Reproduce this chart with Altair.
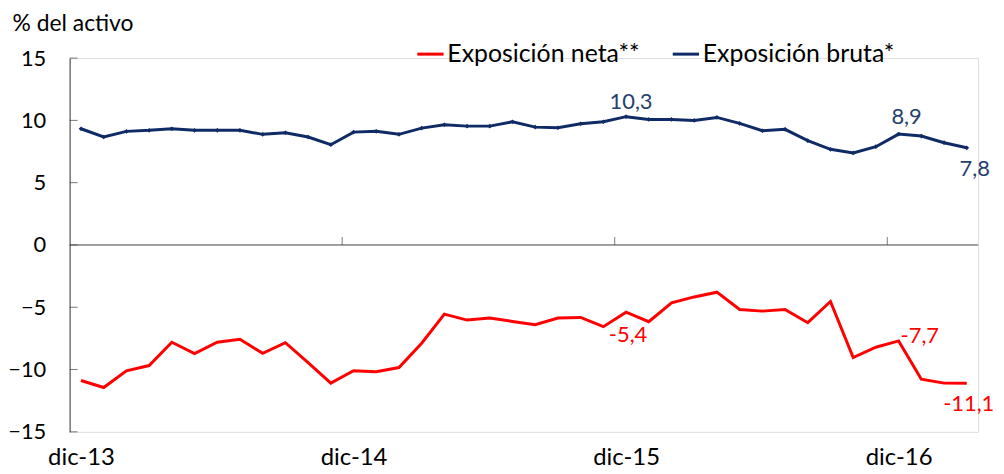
import altair as alt
import pandas as pd

months = [
    "dic-13", "ene-14", "feb-14", "mar-14", "abr-14", "may-14", "jun-14", "jul-14", "ago-14", "sep-14", "oct-14", "nov-14",
    "dic-14", "ene-15", "feb-15", "mar-15", "abr-15", "may-15", "jun-15", "jul-15", "ago-15", "sep-15", "oct-15", "nov-15",
    "dic-15", "ene-16", "feb-16", "mar-16", "abr-16", "may-16", "jun-16", "jul-16", "ago-16", "sep-16", "oct-16", "nov-16",
    "dic-16", "ene-17", "feb-17", "mar-17",
]
bruta = [9.33, 8.67, 9.12, 9.2, 9.33, 9.2, 9.2, 9.2, 8.88, 9.01, 8.67, 8.05,
         9.06, 9.12, 8.88, 9.38, 9.65, 9.54, 9.54, 9.89, 9.46, 9.41, 9.73, 9.89,
         10.3, 10.08, 10.08, 10.0, 10.24, 9.76, 9.17, 9.28, 8.37, 7.68, 7.39, 7.89,
         8.9, 8.74, 8.21, 7.8]
neta = [-10.88, -11.44, -10.1, -9.68, -7.81, -8.72, -7.81, -7.57, -8.69, -7.84, -9.44, -11.09,
        -10.1, -10.18, -9.84, -7.89, -5.55, -6.03, -5.87, -6.14, -6.4, -5.87, -5.82, -6.56,
        -5.4, -6.16, -4.65, -4.17, -3.79, -5.18, -5.31, -5.18, -6.24, -4.54, -9.04, -8.21,
        -7.7, -10.77, -11.09, -11.1]
series_names = ["Exposición neta**", "Exposición bruta*"]
y_ticks = [-15, -10, -5, 0, 5, 10, 15]
label_ticks = [0, 12, 24, 36]
year_bounds = [11.5, 23.5, 35.5]

RED = "#FF0000"
NAVY = "#0F2B66"
NAVY_TXT = "#243F6B"
AXIS = "#404040"
FONT = "Lato"

rows = []
for i, m in enumerate(months):
    rows.append({"i": i, "mes": m, "v": neta[i], "serie": series_names[0]})
    rows.append({"i": i, "mes": m, "v": bruta[i], "serie": series_names[1]})
df = pd.DataFrame(rows)
df_b = df[df.serie == series_names[1]]

label_expr = "[" + ",".join("'%s'" % m for m in months) + "][datum.value]"

xscale = alt.Scale(domain=[-0.5, len(months) - 0.5], nice=False, zero=False)
yscale = alt.Scale(domain=[-15, 15], nice=False)

x_enc = alt.X("i:Q", scale=xscale,
              axis=alt.Axis(values=label_ticks, labelExpr=label_expr, domain=False, ticks=False,
                            grid=False, title=None, labelFontSize=24, labelFont=FONT,
                            labelColor="black", labelPadding=14, labelFlush=False))
y_enc = alt.Y("v:Q", scale=yscale,
              axis=alt.Axis(values=y_ticks, domain=True, domainColor=AXIS, ticks=False, grid=False,
                            labelFontSize=22, labelFont=FONT, labelColor="black", labelPadding=24,
                            title="% del activo", titleAngle=0, titleAlign="left",
                            titleBaseline="alphabetic", titleX=-58, titleY=-28,
                            titleFont=FONT, titleFontSize=23, titleFontWeight="normal",
                            titleColor="black"))

color = alt.Color("serie:N", scale=alt.Scale(domain=series_names, range=[RED, NAVY]),
                  legend=alt.Legend(title=None, orient="none", direction="horizontal",
                                    legendX=348, legendY=-19, symbolType="stroke",
                                    symbolStrokeWidth=3, symbolSize=700, labelFontSize=25,
                                    labelFont=FONT, labelColor="black", labelOffset=2,
                                    columnPadding=26, labelLimit=400))

lines = alt.Chart(df).mark_line(strokeWidth=3).encode(x=x_enc, y=y_enc, color=color)
points = alt.Chart(df_b).mark_point(shape="diamond", filled=True, size=22, opacity=1, color=NAVY).encode(
    x=alt.X("i:Q", scale=xscale), y=alt.Y("v:Q", scale=yscale))

zero = alt.Chart(pd.DataFrame({"v": [0]})).mark_rule(color=AXIS, strokeWidth=1).encode(
    y=alt.Y("v:Q", scale=yscale))
zero_ticks = alt.Chart(pd.DataFrame({"i": year_bounds, "v": [0] * len(year_bounds)})).mark_tick(
    orient="vertical", size=8, thickness=1, yOffset=-4, color=AXIS).encode(
    x=alt.X("i:Q", scale=xscale), y=alt.Y("v:Q", scale=yscale))
yticks = alt.Chart(pd.DataFrame({"v": y_ticks})).mark_tick(
    orient="horizontal", size=8, thickness=1, color=AXIS).encode(
    x=alt.value(4), y=alt.Y("v:Q", scale=yscale))

# data labels
lab_b_idx = [24, 36, 39]
lab_b_txt = ["10,3", "8,9", "7,8"]
lab_n_idx = [24, 36, 39]
lab_n_txt = ["-5,4", "-7,7", "-11,1"]


def lab(idx, txt, vals, col, **kw):
    d = pd.DataFrame({"i": [idx], "v": [vals[idx]], "t": [txt]})
    return alt.Chart(d).mark_text(font=FONT, fontSize=22, color=col, **kw).encode(
        x=alt.X("i:Q", scale=xscale), y=alt.Y("v:Q", scale=yscale), text="t:N")


labels = [
    lab(lab_b_idx[0], lab_b_txt[0], bruta, NAVY_TXT, dx=5, dy=-15),
    lab(lab_b_idx[1], lab_b_txt[1], bruta, NAVY_TXT, dx=8, dy=-17),
    lab(lab_b_idx[2], lab_b_txt[2], bruta, NAVY_TXT, dx=8, dy=21),
    lab(lab_n_idx[0], lab_n_txt[0], neta, RED, dx=2, dy=23),
    lab(lab_n_idx[1], lab_n_txt[1], neta, RED, align="left", dx=2, dy=-5),
    lab(lab_n_idx[2], lab_n_txt[2], neta, RED, dx=2, dy=21),
]

chart = alt.layer(zero, zero_ticks, yticks, lines, points, *labels).properties(
    width=914, height=376,
    padding={"left": 62, "top": 49, "right": 18, "bottom": 40},
    autosize=alt.AutoSizeParams(type="none"),
).configure_view(stroke=None).configure(font=FONT)

chart.save("out.html", embed_options={"renderer": "svg", "actions": False})
